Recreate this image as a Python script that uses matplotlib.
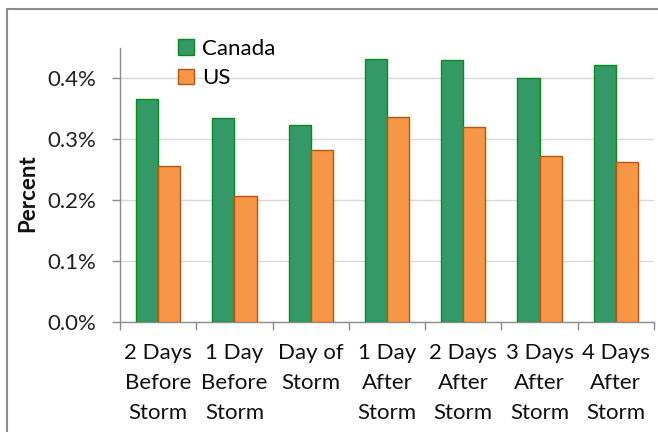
import matplotlib
matplotlib.use("Agg")
import matplotlib.pyplot as plt
from matplotlib.patches import Rectangle, Patch
import numpy as np

categories = ["2 Days\nBefore\nStorm", "1 Day\nBefore\nStorm", "Day of\nStorm",
              "1 Day\nAfter\nStorm", "2 Days\nAfter\nStorm", "3 Days\nAfter\nStorm",
              "4 Days\nAfter\nStorm"]
canada = [0.366, 0.335, 0.324, 0.432, 0.431, 0.400, 0.422]
us = [0.256, 0.207, 0.283, 0.337, 0.320, 0.272, 0.263]
y_ticks = [0.0, 0.1, 0.2, 0.3, 0.4]
y_tick_labels = ["0.0%", "0.1%", "0.2%", "0.3%", "0.4%"]

plt.rcParams['font.family'] = ['Lato', 'DejaVu Sans']
FS = 16

fig = plt.figure(figsize=(6.58, 4.32), dpi=100)
ax = fig.add_axes([120/658, 110/432, 534/658, 274/432])

# outer chart border
fig.patches.append(Rectangle((7/658, -0.05), 1.1, (432-9)/432 + 0.05,
                             transform=fig.transFigure, fill=False,
                             edgecolor="#8c8c8c", linewidth=1.5, zorder=0))

x = np.arange(len(categories))
w = 0.29
ax.bar(x - w/2, canada, w, color="#339966", edgecolor="#0a8a1a", linewidth=1.0,
       label="Canada", zorder=3)
ax.bar(x + w/2, us, w, color="#f79646", edgecolor="#b8560f", linewidth=1.0,
       label="US", zorder=3)

ax.set_xlim(-0.5, len(categories) - 0.5)
ax.set_ylim(0, 0.45)
ax.set_yticks(y_ticks)
ax.set_yticklabels(y_tick_labels, fontsize=FS, color="#222222")
ax.yaxis.grid(True, color="#d9d9d9", linewidth=1.0, zorder=0)
ax.set_axisbelow(True)

ax.set_xticks(x)
ax.set_xticklabels(categories, fontsize=FS, color="#111111", linespacing=1.62)
ax.set_xticks(np.arange(len(categories) + 1) - 0.5, minor=True)
ax.tick_params(axis="x", which="major", length=0, pad=15)
ax.tick_params(axis="x", which="minor", length=6, color="#8c8c8c", width=1.0)
ax.tick_params(axis="y", length=6, color="#8c8c8c", width=1.0, pad=11)

for s in ["top", "right"]:
    ax.spines[s].set_visible(False)
for s in ["left", "bottom"]:
    ax.spines[s].set_color("#8c8c8c")
    ax.spines[s].set_linewidth(1.0)

fig.text(28/658, 1 - 193/432, "Percent", rotation=90, fontsize=FS,
         fontweight="bold", ha="center", va="center", color="#111111")

handles = [Patch(facecolor="#339966", edgecolor="#0a8a1a", label="Canada"),
           Patch(facecolor="#f79646", edgecolor="#b8560f", label="US")]
leg = fig.legend(handles=handles, loc="upper left",
                 bbox_to_anchor=(158/658, 1 - 19/432), frameon=False,
                 fontsize=FS, handlelength=0.7, handleheight=0.7,
                 handletextpad=0.4, labelspacing=0.42)

fig.savefig("out.png", dpi=100)
